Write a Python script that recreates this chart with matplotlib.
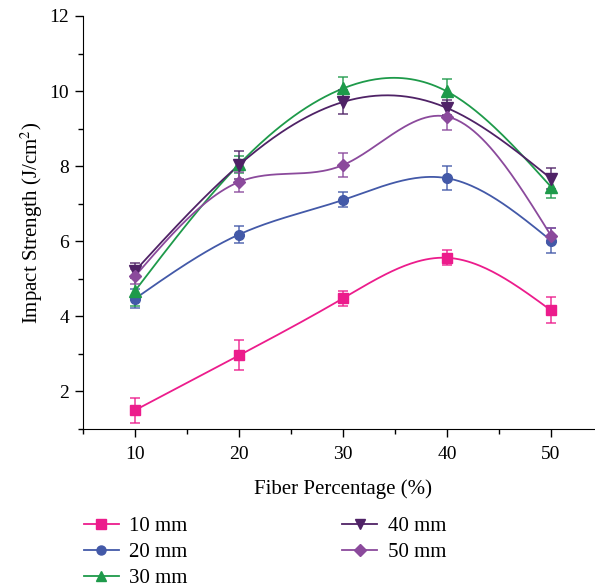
import numpy as np
import matplotlib
matplotlib.use("Agg")
import matplotlib.pyplot as plt
from matplotlib.ticker import MultipleLocator

plt.rcParams['font.family'] = ['Liberation Serif', 'DejaVu Serif']
plt.rcParams['mathtext.fontset'] = 'stix'

#%% DATA
fiber = [10, 20, 30, 40, 50]
labels = ['10 mm', '20 mm', '30 mm', '40 mm', '50 mm']

s10 = [1.50, 2.96, 4.48, 5.56, 4.16]
e10 = [0.33, 0.40, 0.20, 0.20, 0.35]
s20 = [4.47, 6.18, 7.10, 7.68, 6.02]
e20 = [0.25, 0.23, 0.20, 0.32, 0.33]
s30 = [4.68, 8.05, 10.07, 9.99, 7.45]
e30 = [0.40, 0.22, 0.30, 0.33, 0.31]
s40 = [5.21, 8.03, 9.71, 9.55, 7.67]
e40 = [0.20, 0.37, 0.31, 0.20, 0.27]
s50 = [5.07, 7.58, 8.03, 9.32, 6.15]
e50 = [0.20, 0.27, 0.32, 0.35, 0.20]

colors = ['#EC1C8C', '#4359A8', '#1E9A4A', '#4F2266', '#8B4A9C']
markers = ['s', 'o', '^', 'v', 'D']
msizes = [7, 7, 8, 8, 6.5]


#%% natural cubic spline for the connecting line
def natural_spline(x, y, n=200):
    x = np.asarray(x, float)
    y = np.asarray(y, float)
    k = len(x)
    h = np.diff(x)
    A = np.zeros((k, k))
    b = np.zeros(k)
    A[0, 0] = 1
    A[-1, -1] = 1
    for i in range(1, k - 1):
        A[i, i - 1] = h[i - 1]
        A[i, i] = 2 * (h[i - 1] + h[i])
        A[i, i + 1] = h[i]
        b[i] = 6 * ((y[i + 1] - y[i]) / h[i] - (y[i] - y[i - 1]) / h[i - 1])
    m = np.linalg.solve(A, b)
    xs = np.linspace(x[0], x[-1], n)
    idx = np.clip(np.searchsorted(x, xs) - 1, 0, k - 2)
    x0, x1 = x[idx], x[idx + 1]
    hh = x1 - x0
    t0 = x1 - xs
    t1 = xs - x0
    ys = (m[idx] * t0**3 + m[idx + 1] * t1**3) / (6 * hh) \
        + (y[idx] / hh - m[idx] * hh / 6) * t0 \
        + (y[idx + 1] / hh - m[idx + 1] * hh / 6) * t1
    return xs, ys


#%% PLOT
fig = plt.figure(figsize=(5.95, 5.88), dpi=100)
ax = fig.add_axes([83 / 595, 159 / 588, 520 / 595, 413 / 588])

series = [s10, s20, s30, s40, s50]
errs = [e10, e20, e30, e40, e50]
handles = []
for s, e, c, mk, ms, lab in zip(series, errs, colors, markers, msizes, labels):
    xs, ys = natural_spline(fiber, s)
    ax.plot(xs, ys, color=c, lw=1.3, zorder=2)
    ax.errorbar(fiber, s, yerr=e, fmt='none', ecolor=c, elinewidth=1.3,
                capsize=3.3, capthick=1.3, alpha=0.75, zorder=3)
    ax.plot(fiber, s, linestyle='none', marker=mk, ms=ms, color=c, zorder=4)
    h, = ax.plot([], [], color=c, lw=1.3, marker=mk, ms=ms - 0.5, label=lab)
    handles.append(h)

ax.set_xlim(5, 55)
ax.set_ylim(1, 12)
ax.xaxis.set_major_locator(MultipleLocator(10))
ax.set_xticks([5, 15, 25, 35, 45, 55], minor=True)
ax.yaxis.set_major_locator(MultipleLocator(2))
ax.set_yticks([1, 3, 5, 7, 9, 11], minor=True)
ax.tick_params(which='major', direction='out', length=6, width=1, labelsize=14, pad=4)
ax.tick_params(axis='x', which='major', pad=6)
ax.tick_params(which='minor', direction='out', length=3.5, width=1)
ax.spines['top'].set_visible(False)
ax.spines['right'].set_visible(False)

ax.set_xlabel('Fiber Percentage (%)', fontsize=15, labelpad=12)
ax.set_ylabel('Impact Strength (J/cm$^2$)', fontsize=15, labelpad=3)

fig.legend(handles=handles,
           ncol=2, loc='upper left', bbox_to_anchor=(69 / 595, 1 - 502 / 588),
           frameon=False, fontsize=15, handlelength=1.7, handletextpad=0.5,
           columnspacing=7.4, labelspacing=0.3, borderpad=0.2)

fig.savefig('out.png', dpi=100)
